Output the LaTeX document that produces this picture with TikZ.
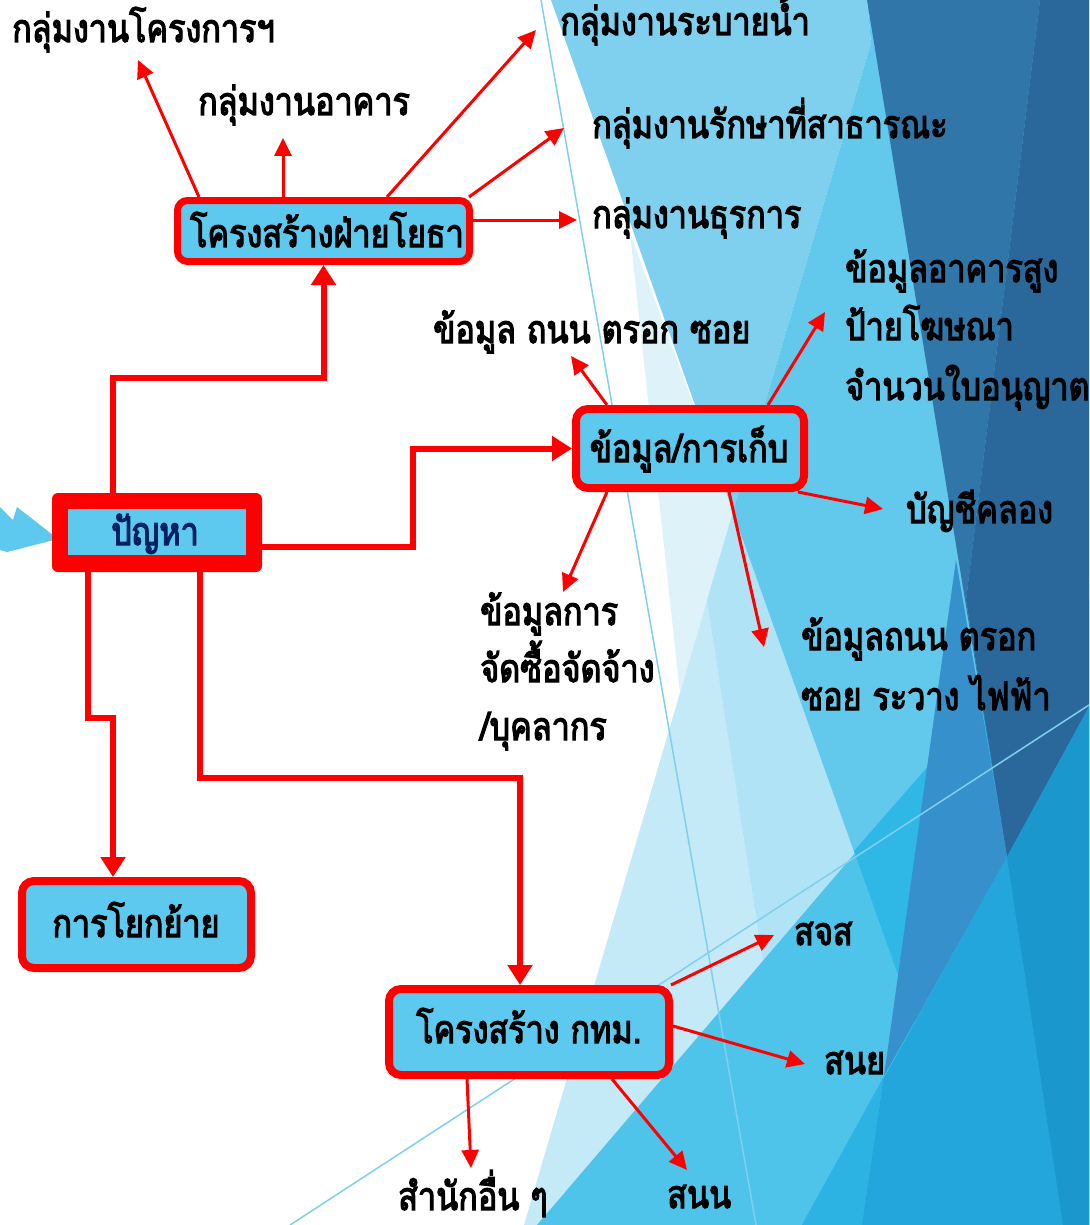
\documentclass[tikz,border=0pt]{standalone}
\usepackage{fontspec}
\newfontfamily\thai[Script=Thai, FakeStretch=0.83, FakeBold=3]{Loma}
\usetikzlibrary{arrows.meta,calc}
\definecolor{boxcyan}{RGB}{94,201,238}
\definecolor{navy}{RGB}{0,32,96}
\definecolor{cLB}{HTML}{7ED0EE}
\definecolor{cVL}{HTML}{DEF2FA}
\definecolor{cLL}{HTML}{C4E9F7}
\definecolor{cLLb}{HTML}{B0E3F5}
\definecolor{cMED}{HTML}{62C8EC}
\definecolor{cE}{HTML}{4FC4EA}
\definecolor{cEb}{HTML}{2FB7E5}
\definecolor{cDK}{HTML}{3076A8}
\definecolor{cDKb}{HTML}{2A689B}
\definecolor{cBand}{HTML}{3590CB}
\definecolor{cBR}{HTML}{22A6DC}
\definecolor{cBRs}{HTML}{2CB3E3}
\definecolor{cBRd}{HTML}{1A97CC}
\definecolor{thinln}{HTML}{7FD0EE}
\begin{document}
\begin{tikzpicture}[x=1pt,y=-1pt,
  lbl/.style={anchor=base west, inner sep=0pt, font=\thai\fontsize{39}{46}\selectfont, text=black},
  boxtxt/.style={anchor=base, inner sep=0pt, font=\thai\fontsize{39}{46}\selectfont, text=black},
  redbox/.style={draw=red, fill=boxcyan, rounded corners=12pt, inner sep=0pt},
  thickarrow/.style={draw=red, line width=6pt, -{Triangle[length=20pt,width=24pt]}},
  thinarrow/.style={draw=red, line width=3pt, -{Triangle[length=18pt,width=17pt]}}
]
\useasboundingbox (0,0) rectangle (1089,1225);
% ---------- background ----------
\fill[white] (0,0) rectangle (1089,1225);
\fill[cLB] (551,0) -- (867,0) -- (871,43) -- (733,512) -- cycle;
\fill[cVL] (630,233) -- (733,512) -- (680,693) -- cycle;
\fill[cLL] (733,512) -- (524,1225) -- (987,1225) -- cycle;
\fill[cLLb] (733,512) -- (707,600) -- (804,1225) -- (987,1225) -- cycle;
\fill[cMED] (867,0) -- (871,43) -- (733,512) -- (987,1225) -- (1089,1225) -- (1089,0) -- cycle;
\fill[cE] (537,1225) -- (927,769) -- (1089,580) -- (1089,1225) -- cycle;
\fill[cEb] (854,851) -- (980,707) -- (1089,600) -- (1089,1225) -- (987,1225) -- cycle;
\fill[cDK] (867,0) -- (1040,0) -- (966,600) -- (1007,857) -- cycle;
\fill[cDKb] (1040,0) -- (1089,0) -- (1089,707) -- (1007,857) -- (966,600) -- cycle;
\fill[cBand] (956,560) -- (1007,857) -- (884,1076) -- cycle;
\fill[cBR] (1089,707) -- (1007,857) -- (802,1225) -- (1089,1225) -- cycle;
\fill[cBRs] (884,1076) -- (802,1225) -- (862,1225) -- cycle;
\fill[cBRd] (1007,857) -- (1089,707) -- (1089,1225) -- (1063,1225) -- cycle;
\draw[thinln, line width=1.5pt] (541,0) -- (756,1225);
\draw[thinln, line width=1.5pt] (290,1225) -- (1089,705);
% left theme arrow
\fill[boxcyan] (0,507) -- (13,520) -- (17,507) -- (58,539) -- (7,552) -- (0,550) -- cycle;

% ---------- boxes ----------
\node[fill=red, rounded corners=6pt, minimum width=210pt, minimum height=79pt, inner sep=0pt] (p) at (157,532.5) {};
\node[fill=boxcyan, minimum width=178pt, minimum height=46pt, inner sep=0pt] (pin) at (157,532) {};
\node[boxtxt, text=navy] (ptxt) at (155,545) {ปัญหา};

\node[redbox, line width=7pt, rounded corners=10pt, minimum width=292pt, minimum height=61pt] (yotha) at (323.5,231) {};
\node[boxtxt] (yothatxt) at (327,247) {โครงสร้างฝ่ายโยธา};

\node[redbox, line width=8pt, minimum width=228pt, minimum height=79pt] (info) at (690,448.5) {};
\node[boxtxt] (infotxt) at (689,462) {ข้อมูล/การเก็บ};

\node[redbox, line width=8pt, minimum width=229pt, minimum height=87pt] (kk) at (136.5,924.5) {};
\node[boxtxt] (kktxt) at (136,937) {การโยกย้าย};

\node[redbox, line width=8pt, minimum width=280pt, minimum height=86pt] (bkk) at (529,1032) {};
\node[boxtxt] (bkktxt) at (529,1043) {โครงสร้าง กทม.};

% ---------- labels ----------
\node[lbl] (l1) at (12,42) {กลุ่มงานโครงการฯ};
\node[lbl] (l2) at (198,115) {กลุ่มงานอาคาร};
\node[lbl] (l3) at (560,35) {กลุ่มงานระบายน้ำ};
\node[lbl] (l4) at (592,138) {กลุ่มงานรักษาที่สาธารณะ};
\node[lbl] (l5) at (592,228) {กลุ่มงานธุรการ};
\node[lbl] (l6a) at (845,282) {ข้อมูลอาคารสูง};
\node[lbl] (l6b) at (845,340) {ป้ายโฆษณา};
\node[lbl] (l6c) at (845,400) {จำนวนใบอนุญาต};
\node[lbl] (l7) at (433,343) {ข้อมูล ถนน ตรอก ซอย};
\node[lbl] (l8) at (906,523) {บัญชีคลอง};
\node[lbl] (l9a) at (801,650) {ข้อมูลถนน ตรอก};
\node[lbl] (l9b) at (801,710) {ซอย ระวาง ไฟฟ้า};
\node[lbl] (l10a) at (480,625) {ข้อมูลการ};
\node[lbl] (l10b) at (480,682) {จัดซื้อจัดจ้าง};
\node[lbl] (l10c) at (480,740) {/บุคลากร};
\node[lbl] (l11) at (794,945) {สจส};
\node[lbl] (l12) at (824,1074) {สนย};
\node[lbl] (l13) at (667,1208) {สนน};
\node[lbl] (l14) at (398,1210) {สำนักอื่น ๆ};

% ---------- arrow end points ----------
\coordinate (e1) at (138,60);
\coordinate (e2) at (283,138);
\coordinate (e3) at (536,30);
\coordinate (e4) at (564,128);
\coordinate (e5) at (577,220);
\coordinate (e7) at (571,356);
\coordinate (e6) at (825,312);
\coordinate (e8) at (883,509);
\coordinate (e9) at (764,647);
\coordinate (e10) at (563,592);
\coordinate (e11) at (774,935);
\coordinate (e12) at (805,1064);
\coordinate (e13) at (687,1170);
\coordinate (e14) at (471,1168);

% ---------- thick connectors ----------
\draw[thickarrow] ([xshift=-44pt]p.north) -- ++(0,-115) -| (yotha.south);
\draw[thickarrow] ([yshift=-14pt]p.east) -- ++(151,0) |- (info.west);
\draw[thickarrow] ([xshift=-69pt]p.south) -- ++(0,146) -| ([xshift=-23.5pt]kk.north);
\draw[thickarrow] ([xshift=43pt]p.south) -- ++(0,206) -| ([xshift=-9pt]bkk.north);

% ---------- thin connectors ----------
\draw[thinarrow] ([xshift=-124.5pt]yotha.north) -- (e1);
\draw[thinarrow] ([xshift=-40.5pt]yotha.north) -- (e2);
\draw[thinarrow] ([xshift=63.5pt]yotha.north) -- (e3);
\draw[thinarrow] ([xshift=-4pt]yotha.north east) -- (e4);
\draw[thinarrow] ([yshift=11pt]yotha.east) -- (e5);
\draw[thinarrow] ([xshift=-83pt]info.north) -- (e7);
\draw[thinarrow] ([xshift=78pt]info.north) -- (e6);
\draw[thinarrow] ([xshift=-10pt]info.south east) -- (e8);
\draw[thinarrow] ([xshift=39pt]info.south) -- (e9);
\draw[thinarrow] ([xshift=-83pt]info.south) -- (e10);
\draw[thinarrow] ([xshift=-2pt]bkk.north east) -- (e11);
\draw[thinarrow] ([yshift=6pt]bkk.east) -- (e12);
\draw[thinarrow] ([xshift=83pt]bkk.south) -- (e13);
\draw[thinarrow] ([xshift=-62pt]bkk.south) -- (e14);
\end{tikzpicture}
\end{document}
